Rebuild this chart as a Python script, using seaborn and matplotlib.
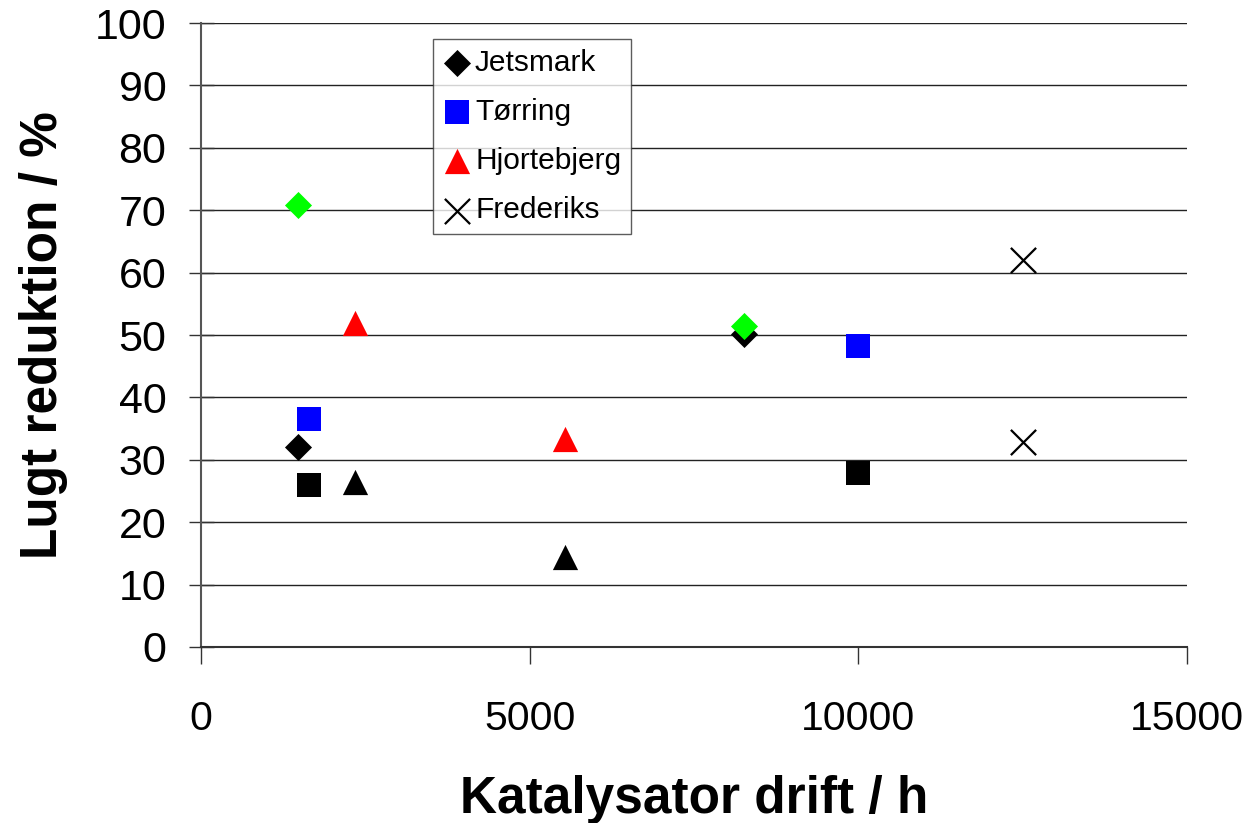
import matplotlib
matplotlib.use("Agg")
import matplotlib.pyplot as plt
from matplotlib import font_manager
import seaborn as sns
import pandas as pd

# Odour reduction vs. catalyst operating hours
jets_x = [1470, 8260]
jets_y = [32.0, 50.2]
jets2_x = [1470, 8260]
jets2_y = [70.8, 51.4]
toer_x = [1650, 10000]
toer_y = [36.6, 48.2]
toer2_x = [1650, 10000]
toer2_y = [25.9, 27.9]
hjor_x = [2350, 5540]
hjor_y = [52.0, 33.3]
hjor2_x = [2350, 5540]
hjor2_y = [26.5, 14.4]
fred_x = [12500, 12500]
fred_y = [62.0, 32.8]

x_ticks = [0, 5000, 10000, 15000]
y_ticks = list(range(0, 101, 10))

sns.set_theme(style="white")
names = {f.name for f in font_manager.fontManager.ttflist}
narrow = "Liberation Sans Narrow" if "Liberation Sans Narrow" in names else "Liberation Sans"
plt.rcParams["font.family"] = ["Liberation Sans", "DejaVu Sans"]
for key in ["text.color", "axes.labelcolor", "xtick.color", "ytick.color"]:
    plt.rcParams[key] = "black"

fig = plt.figure(figsize=(12.53, 8.23), dpi=100)
ax = fig.add_axes([0.1604, 0.2139, 0.7869, 0.7581])

series = [
    (jets_x, jets_y, "D", "black", "Jetsmark", 190),
    (jets2_x, jets2_y, "D", "#00ff00", None, 190),
    (toer_x, toer_y, "s", "#0000ff", "Tørring", 300),
    (toer2_x, toer2_y, "s", "black", None, 300),
    (hjor_x, hjor_y, "^", "#ff0000", "Hjortebjerg", 330),
    (hjor2_x, hjor2_y, "^", "black", None, 330),
]
for i in [0, 2, 3, 4, 5, 1]:
    xs, ys, mk, col, lab, s = series[i]
    df = pd.DataFrame({"x": xs, "y": ys})
    sns.scatterplot(data=df, x="x", y="y", marker=mk, color=col, s=s,
                    linewidth=0, label=lab if lab else "_nolegend_", ax=ax,
                    zorder=3)

df = pd.DataFrame({"x": fred_x, "y": fred_y})
sns.scatterplot(data=df, x="x", y="y", marker="x", color="black", s=330,
                linewidth=1.6, label="Frederiks", ax=ax, zorder=3)

ax.set_xlim(0, 15000)
ax.set_ylim(0, 100)
ax.set_xticks(x_ticks)
ax.set_yticks(y_ticks)
xfs = 35 if narrow != "Liberation Sans" else 29.5
ax.set_xticklabels([str(v) for v in x_ticks], family=[narrow, "DejaVu Sans"], fontsize=xfs)
ax.set_yticklabels([str(v) for v in y_ticks], fontsize=31)
ax.yaxis.grid(True, color="#222222", linewidth=1.0, zorder=0)
ax.xaxis.grid(False)

for side in ["top", "right"]:
    ax.spines[side].set_visible(False)
ax.spines["left"].set_color("#555555")
ax.spines["left"].set_linewidth(1.5)
ax.spines["bottom"].set_color("#333333")
ax.spines["bottom"].set_linewidth(1.5)

ax.tick_params(axis="y", direction="inout", length=18, width=1.0, color="#333333", pad=16, left=True)
ax.tick_params(axis="x", direction="out", length=12, width=1.0, color="#333333", pad=26, bottom=True)

ax.set_ylabel("Lugt reduktion / %", fontsize=37, fontweight="bold", labelpad=19)
xlfs = 44 if narrow != "Liberation Sans" else 37
ax.set_xlabel("Katalysator drift / h", fontsize=xlfs, fontweight="bold",
              family=[narrow, "DejaVu Sans"], labelpad=27)

leg = ax.legend(loc="upper left", bbox_to_anchor=(0.235, 0.974), fontsize=21.5,
                frameon=True, fancybox=False, edgecolor="#333333",
                handletextpad=0.1, labelspacing=0.71, borderpad=0.32,
                handlelength=1.0, borderaxespad=0)
leg.get_frame().set_linewidth(1.0)
for t in leg.get_texts():
    t.set_color("black")

fig.savefig("out.png", dpi=100, facecolor="white")
